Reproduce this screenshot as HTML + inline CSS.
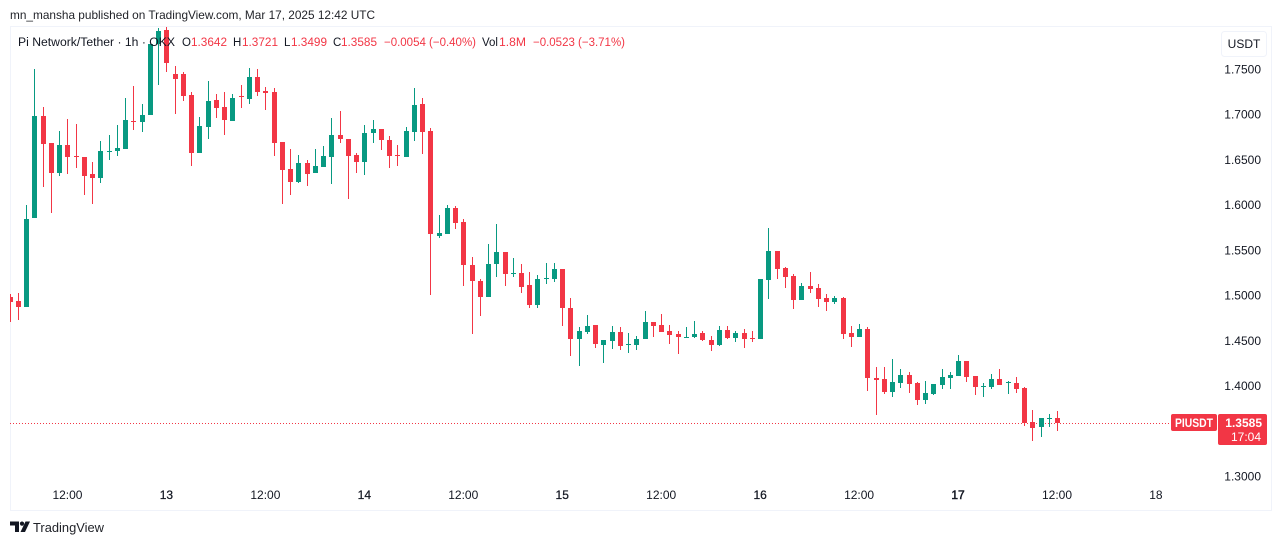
<!DOCTYPE html>
<html lang="en">
<head>
<meta charset="utf-8">
<title>Pi Network/Tether 1h chart</title>
<style>
html,body{margin:0;padding:0;background:#fff;}
body{width:1281px;height:545px;overflow:hidden;}
svg{display:block;font-family:"Liberation Sans",sans-serif;}
</style>
</head>
<body>
<svg id="chart" xmlns="http://www.w3.org/2000/svg" width="1281" height="545" viewBox="0 0 1281 545">
  <defs><clipPath id="pane"><rect x="10" y="26" width="1261" height="484"/></clipPath></defs>
  <rect x="0" y="0" width="1281" height="545" fill="#ffffff"/>
  <text x="10" y="19" font-size="12" fill="#1f2127" textLength="365" lengthAdjust="spacingAndGlyphs">mn_mansha published on TradingView.com, Mar 17, 2025 12:42 UTC</text>
  <rect x="10.5" y="26.5" width="1261" height="484" fill="none" stroke="#f0f3fa"/>
  <g id="price-axis"></g>
  <g id="time-axis"></g>
  <line id="last-line" x1="10" x2="1171" stroke="#f23645" stroke-width="1" stroke-dasharray="1 2" shape-rendering="crispEdges"/>
  <g id="candles" clip-path="url(#pane)"></g>
  <g font-size="11.5">
    <text x="18" y="46" fill="#131722" textLength="157" lengthAdjust="spacingAndGlyphs">Pi Network/Tether · 1h · OKX</text>
    <text x="182" y="46" fill="#131722">O</text>
    <text x="191" y="46" fill="#f23645" textLength="36" lengthAdjust="spacingAndGlyphs">1.3642</text>
    <text x="233" y="46" fill="#131722">H</text>
    <text x="242" y="46" fill="#f23645" textLength="36" lengthAdjust="spacingAndGlyphs">1.3721</text>
    <text x="284" y="46" fill="#131722">L</text>
    <text x="291" y="46" fill="#f23645" textLength="36" lengthAdjust="spacingAndGlyphs">1.3499</text>
    <text x="333" y="46" fill="#131722">C</text>
    <text x="341" y="46" fill="#f23645" textLength="36" lengthAdjust="spacingAndGlyphs">1.3585</text>
    <text x="384" y="46" fill="#f23645" textLength="92" lengthAdjust="spacingAndGlyphs">−0.0054 (−0.40%)</text>
    <text x="482" y="46" fill="#131722">Vol</text>
    <text x="499" y="46" fill="#f23645" textLength="27" lengthAdjust="spacingAndGlyphs">1.8M</text>
    <text x="533" y="46" fill="#f23645" textLength="92" lengthAdjust="spacingAndGlyphs">−0.0523 (−3.71%)</text>
  </g>
  <g>
    <rect x="1221.5" y="31.5" width="45" height="25" rx="3" fill="#ffffff" stroke="#f0f3fa"/>
    <text x="1244" y="48" font-size="12" fill="#131722" text-anchor="middle">USDT</text>
  </g>
  <g>
    <rect x="1171" y="414" width="46" height="17" rx="2" fill="#f23645"/>
    <text x="1194" y="427" font-size="12" font-weight="bold" fill="#ffffff" text-anchor="middle" textLength="38" lengthAdjust="spacingAndGlyphs">PIUSDT</text>
    <rect x="1218" y="414" width="49" height="31" rx="2" fill="#f23645"/>
    <text x="1262" y="427" font-size="12" font-weight="bold" fill="#ffffff" text-anchor="end">1.3585</text>
    <text x="1261" y="441" font-size="12" fill="#ffffff" text-anchor="end">17:04</text>
  </g>
  <g>
    <path d="M10 521.5H19V532H15V525.5H10Z M25.5 521.5H30L25 532H20.5Z" fill="#131722"/>
    <circle cx="22" cy="523.6" r="2.1" fill="#131722"/>
    <text x="33" y="532" font-size="13" fill="#1f2127" textLength="71" lengthAdjust="spacingAndGlyphs">TradingView</text>
  </g>
</svg>
<script>
const opens = [1.4979,1.4935,1.4869,1.5853,1.6980,1.6682,1.6350,1.6660,1.6541,1.6527,1.6339,1.6295,1.6590,1.6593,1.6615,1.6928,
1.6914,1.6991,1.7776,1.7931,1.7445,1.7445,1.7213,1.6571,1.6859,1.7157,1.7080,1.6925,1.7197,1.7168,1.7412,1.7257,
1.7246,1.6693,1.6394,1.6251,1.6461,1.6350,1.6416,1.6527,1.6770,1.6726,1.6549,1.6472,1.6792,1.6837,1.6715,1.6552,
1.6527,1.6803,1.7113,1.6815,1.5654,1.5676,1.5963,1.5808,1.5333,1.5156,1.4979,1.5344,1.5477,1.5238,1.5244,1.5112,
1.4891,1.5186,1.5178,1.5289,1.4858,1.4515,1.4592,1.4669,1.4448,1.4493,1.4592,1.4456,1.4448,1.4515,1.4703,1.4669,
1.4603,1.4570,1.4534,1.4537,1.4581,1.4504,1.4448,1.4614,1.4526,1.4581,1.4529,1.4515,1.5167,1.5488,1.5300,1.5211,
1.4946,1.5101,1.5079,1.4968,1.4924,1.4968,1.4581,1.4537,1.4625,1.4084,1.4072,1.3929,1.4028,1.4117,1.4028,1.3840,
1.3906,1.4006,1.4084,1.4106,1.4271,1.4106,1.3992,1.3984,1.4072,1.4036,1.4028,1.3973,1.3597,1.3542,1.3638,1.3642];
const highs = [1.5012,1.5023,1.5996,1.7500,1.7080,1.6682,1.6815,1.6947,1.6892,1.6527,1.6472,1.6704,1.6770,1.6881,1.7179,1.7312,
1.7113,1.7776,1.7953,1.7964,1.7533,1.7467,1.7246,1.6969,1.7367,1.7224,1.7246,1.7224,1.7323,1.7511,1.7500,1.7301,
1.7290,1.6693,1.6615,1.6549,1.6494,1.6615,1.6649,1.6958,1.7036,1.6726,1.6571,1.6881,1.6936,1.6837,1.6759,1.6660,
1.6859,1.7290,1.7179,1.6848,1.5886,1.5996,1.5985,1.5841,1.5421,1.5178,1.5565,1.5786,1.5477,1.5410,1.5344,1.5255,
1.5222,1.5355,1.5355,1.5289,1.4968,1.4647,1.4780,1.4669,1.4504,1.4658,1.4647,1.4581,1.4548,1.4824,1.4703,1.4791,
1.4669,1.4603,1.4647,1.4714,1.4603,1.4548,1.4658,1.4658,1.4603,1.4625,1.4603,1.5178,1.5742,1.5488,1.5311,1.5233,
1.5134,1.5255,1.5123,1.5012,1.4990,1.4979,1.4658,1.4680,1.4647,1.4205,1.4205,1.4294,1.4183,1.4150,1.4039,1.4050,
1.4017,1.4183,1.4150,1.4338,1.4271,1.4106,1.4028,1.4128,1.4183,1.4050,1.4095,1.3984,1.3730,1.3641,1.3685,1.3721];
const lows = [1.4703,1.4725,1.4869,1.5853,1.6195,1.5908,1.6317,1.6339,1.6405,1.6107,1.6007,1.6240,1.6494,1.6538,1.6615,1.6826,
1.6803,1.6991,1.7323,1.7467,1.7003,1.7146,1.6428,1.6571,1.6726,1.6958,1.6770,1.6925,1.7069,1.7113,1.7202,1.7047,
1.6538,1.6007,1.6107,1.6240,1.6206,1.6350,1.6416,1.6228,1.6682,1.6063,1.6350,1.6328,1.6682,1.6604,1.6405,1.6428,
1.6527,1.6704,1.6560,1.5001,1.5631,1.5676,1.5731,1.5101,1.4570,1.4769,1.4979,1.5200,1.5101,1.5200,1.5023,1.4858,
1.4858,1.5123,1.5145,1.4658,1.4327,1.4216,1.4570,1.4415,1.4249,1.4404,1.4393,1.4360,1.4393,1.4515,1.4537,1.4592,
1.4459,1.4349,1.4526,1.4526,1.4493,1.4382,1.4437,1.4515,1.4481,1.4415,1.4481,1.4515,1.4957,1.5178,1.5079,1.4846,
1.4946,1.5023,1.4869,1.4824,1.4902,1.4515,1.4426,1.4537,1.3940,1.3674,1.3906,1.3873,1.3973,1.3918,1.3785,1.3796,
1.3895,1.3962,1.3962,1.4106,1.4039,1.3895,1.3873,1.3962,1.4006,1.3906,1.3918,1.3553,1.3387,1.3431,1.3542,1.3499];
const closes = [1.4924,1.4869,1.5841,1.6980,1.6671,1.6350,1.6660,1.6527,1.6532,1.6317,1.6295,1.6593,1.6596,1.6627,1.6936,1.6922,
1.6991,1.7776,1.7920,1.7566,1.7390,1.7202,1.6571,1.6870,1.7146,1.7069,1.6936,1.7179,1.7191,1.7412,1.7246,1.7235,
1.6682,1.6383,1.6251,1.6461,1.6339,1.6428,1.6538,1.6770,1.6726,1.6538,1.6472,1.6792,1.6837,1.6715,1.6538,1.6546,
1.6815,1.7102,1.6803,1.5676,1.5687,1.5963,1.5797,1.5333,1.5156,1.4979,1.5344,1.5477,1.5233,1.5244,1.5090,1.4891,
1.5178,1.5192,1.5289,1.4858,1.4515,1.4603,1.4658,1.4459,1.4504,1.4592,1.4437,1.4462,1.4515,1.4703,1.4658,1.4592,
1.4559,1.4537,1.4540,1.4570,1.4504,1.4448,1.4614,1.4526,1.4581,1.4515,1.4523,1.5178,1.5488,1.5289,1.5200,1.4946,
1.5101,1.5067,1.4957,1.4924,1.4968,1.4570,1.4537,1.4625,1.4084,1.4061,1.3929,1.4039,1.4117,1.4017,1.3840,1.3918,
1.4017,1.4095,1.4117,1.4271,1.4095,1.3984,1.3998,1.4072,1.4006,1.4042,1.3962,1.3586,1.3531,1.3641,1.3644,1.3585];
const priceTicks = [1.75,1.70,1.65,1.60,1.55,1.50,1.45,1.40,1.30];
const timeLabels = ["12:00","13","12:00","14","12:00","15","12:00","16","12:00","17","12:00","18"];
const timeSlots = [7,19,31,43,55,67,79,91,103,115,127,139];
const lastPrice = 1.3585;

const NS = "http://www.w3.org/2000/svg";
function yOf(p){ return 69 + (1.75 - p) * 904.4; }
function xOf(i){ return 9.75 + 8.246 * i; }
function mk(parent, tag, attrs){
  const el = document.createElementNS(NS, tag);
  for (const k in attrs) el.setAttribute(k, attrs[k]);
  parent.appendChild(el);
  return el;
}

const candleLayer = document.getElementById("candles");
opens.forEach(function(o, i){
  const c = closes[i], up = c >= o, color = up ? "#089981" : "#f23645";
  const cx = Math.round(xOf(i));
  const g = mk(candleLayer, "g", {fill: color});
  
  
  const hy = Math.round(yOf(highs[i])), ly = Math.round(yOf(lows[i]));
  const wick = mk(g, "rect", {x: cx, y: hy, width: 1, height: Math.max(1, ly - hy), "shape-rendering": "crispEdges"});
  
  
  const ty = Math.round(yOf(Math.max(o, c))), by = Math.round(yOf(Math.min(o, c)));
  const body = mk(g, "rect", {x: cx - 2, y: ty, width: 5, height: Math.max(1, by - ty), "shape-rendering": "crispEdges"});
  
  
});

const priceAxis = document.getElementById("price-axis");
priceTicks.forEach(function(p){
  const t = mk(priceAxis, "text", {x: 1261, y: yOf(p) + 4.5, "font-size": 12, fill: "#131722", "text-anchor": "end"});
  
  
  t.textContent = p.toFixed(4);
});

const timeAxis = document.getElementById("time-axis");
timeLabels.forEach(function(label, i){
  const t = mk(timeAxis, "text", {x: xOf(timeSlots[i]), y: 499, "font-size": 12, fill: "#131722", "text-anchor": "middle"});
  
  
  if (label.length < 3 && label !== "18") {
    t.setAttribute("stroke", "#131722");
    t.setAttribute("stroke-width", label === "17" ? "0.5" : "0.25");
  }
  t.textContent = label;
});

const lastLine = document.getElementById("last-line");
lastLine.setAttribute("y1", Math.round(yOf(lastPrice)) + 0.5);
lastLine.setAttribute("y2", Math.round(yOf(lastPrice)) + 0.5);
</script>
</body>
</html>
